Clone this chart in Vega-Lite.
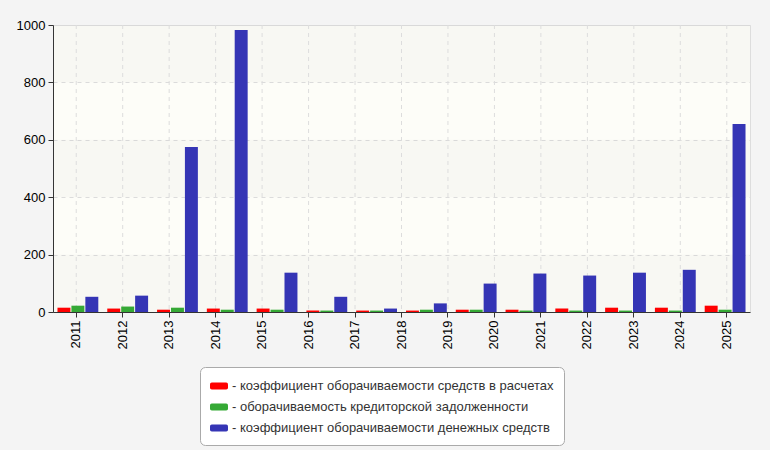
{
  "$schema": "https://vega.github.io/schema/vega-lite/v6.json",
  "width": 697,
  "height": 287,
  "autosize": {"type": "none"},
  "padding": {"left": 53, "top": 25, "right": 20, "bottom": 138},
  "background": "#f4f4f4",
  "config": {
    "font": "Liberation Sans",
    "view": {"fill": "#fdfdf8", "stroke": "#dddddd"}
  },
  "datasets": {
    "turnover": [
      {"period": "2012", "series": "коэффициент оборачиваемости средств в расчетах", "value": 15},
      {"period": "2012", "series": "оборачиваемость кредиторской задолженности", "value": 22},
      {"period": "2012", "series": "коэффициент оборачиваемости денежных средств", "value": 53},
      {"period": "2013", "series": "коэффициент оборачиваемости средств в расчетах", "value": 12},
      {"period": "2013", "series": "оборачиваемость кредиторской задолженности", "value": 19},
      {"period": "2013", "series": "коэффициент оборачиваемости денежных средств", "value": 57},
      {"period": "2014", "series": "коэффициент оборачиваемости средств в расчетах", "value": 8},
      {"period": "2014", "series": "оборачиваемость кредиторской задолженности", "value": 15},
      {"period": "2014", "series": "коэффициент оборачиваемости денежных средств", "value": 575},
      {"period": "2015", "series": "коэффициент оборачиваемости средств в расчетах", "value": 12},
      {"period": "2015", "series": "оборачиваемость кредиторской задолженности", "value": 8},
      {"period": "2015", "series": "коэффициент оборачиваемости денежных средств", "value": 983},
      {"period": "2016", "series": "коэффициент оборачиваемости средств в расчетах", "value": 12},
      {"period": "2016", "series": "оборачиваемость кредиторской задолженности", "value": 8},
      {"period": "2016", "series": "коэффициент оборачиваемости денежных средств", "value": 137},
      {"period": "2017", "series": "коэффициент оборачиваемости средств в расчетах", "value": 5},
      {"period": "2017", "series": "оборачиваемость кредиторской задолженности", "value": 5},
      {"period": "2017", "series": "коэффициент оборачиваемости денежных средств", "value": 53},
      {"period": "2018", "series": "коэффициент оборачиваемости средств в расчетах", "value": 5},
      {"period": "2018", "series": "оборачиваемость кредиторской задолженности", "value": 5},
      {"period": "2018", "series": "коэффициент оборачиваемости денежных средств", "value": 12},
      {"period": "2019", "series": "коэффициент оборачиваемости средств в расчетах", "value": 5},
      {"period": "2019", "series": "оборачиваемость кредиторской задолженности", "value": 8},
      {"period": "2019", "series": "коэффициент оборачиваемости денежных средств", "value": 30},
      {"period": "2020", "series": "коэффициент оборачиваемости средств в расчетах", "value": 8},
      {"period": "2020", "series": "оборачиваемость кредиторской задолженности", "value": 8},
      {"period": "2020", "series": "коэффициент оборачиваемости денежных средств", "value": 99},
      {"period": "2021", "series": "коэффициент оборачиваемости средств в расчетах", "value": 8},
      {"period": "2021", "series": "оборачиваемость кредиторской задолженности", "value": 5},
      {"period": "2021", "series": "коэффициент оборачиваемости денежных средств", "value": 134},
      {"period": "2022", "series": "коэффициент оборачиваемости средств в расчетах", "value": 12},
      {"period": "2022", "series": "оборачиваемость кредиторской задолженности", "value": 5},
      {"period": "2022", "series": "коэффициент оборачиваемости денежных средств", "value": 127},
      {"period": "2023", "series": "коэффициент оборачиваемости средств в расчетах", "value": 15},
      {"period": "2023", "series": "оборачиваемость кредиторской задолженности", "value": 5},
      {"period": "2023", "series": "коэффициент оборачиваемости денежных средств", "value": 137},
      {"period": "2024", "series": "коэффициент оборачиваемости средств в расчетах", "value": 15},
      {"period": "2024", "series": "оборачиваемость кредиторской задолженности", "value": 5},
      {"period": "2024", "series": "коэффициент оборачиваемости денежных средств", "value": 147},
      {"period": "2025", "series": "коэффициент оборачиваемости средств в расчетах", "value": 22},
      {"period": "2025", "series": "оборачиваемость кредиторской задолженности", "value": 8},
      {"period": "2025", "series": "коэффициент оборачиваемости денежных средств", "value": 655}
    ],
    "years": [
      {"year": "2011"}, {"year": "2012"}, {"year": "2013"}, {"year": "2014"}, {"year": "2015"},
      {"year": "2016"}, {"year": "2017"}, {"year": "2018"}, {"year": "2019"}, {"year": "2020"},
      {"year": "2021"}, {"year": "2022"}, {"year": "2023"}, {"year": "2024"}, {"year": "2025"}
    ],
    "bands": [
      {"from": 0, "to": 200},
      {"from": 400, "to": 600},
      {"from": 800, "to": 1000}
    ]
  },
  "layer": [
    {
      "data": {"name": "bands"},
      "mark": {"type": "rect", "fill": "#808080", "opacity": 0.045},
      "encoding": {
        "x": {"value": 0},
        "x2": {"value": "width"},
        "y": {
          "field": "from",
          "type": "quantitative",
          "scale": {"domain": [0, 1000], "nice": false},
          "axis": {
            "title": null,
            "values": [0, 200, 400, 600, 800, 1000],
            "format": "d",
            "grid": true,
            "gridDash": [4, 4],
            "gridColor": "#dddddd",
            "domainColor": "#333333",
            "tickColor": "#333333",
            "tickSize": 5,
            "labelFontSize": 13,
            "labelColor": "#000000",
            "labelPadding": 3
          }
        },
        "y2": {"field": "to"}
      }
    },
    {
      "data": {"name": "years"},
      "mark": {"type": "rule", "color": "#dddddd", "strokeDash": [4, 4]},
      "encoding": {
        "x": {
          "field": "year",
          "type": "ordinal",
          "scale": {"paddingInner": 0, "paddingOuter": 0},
          "axis": {
            "title": null,
            "labelAngle": -90,
            "grid": false,
            "tickSize": 5,
            "tickColor": "#333333",
            "domainColor": "#333333",
            "labelFontSize": 13,
            "labelColor": "#000000",
            "labelPadding": 3
          }
        }
      }
    },
    {
      "data": {"name": "turnover"},
      "mark": {"type": "bar"},
      "encoding": {
        "x": {
          "field": "period",
          "type": "nominal",
          "scale": {"paddingInner": 0.18, "paddingOuter": 0.09},
          "axis": null
        },
        "xOffset": {
          "field": "series",
          "type": "nominal",
          "scale": {
            "domain": ["коэффициент оборачиваемости средств в расчетах", "оборачиваемость кредиторской задолженности", "коэффициент оборачиваемости денежных средств"],
            "paddingInner": 0.07
          }
        },
        "y": {
          "field": "value",
          "type": "quantitative",
          "scale": {"domain": [0, 1000], "nice": false},
          "axis": {
            "title": null,
            "values": [0, 200, 400, 600, 800, 1000],
            "format": "d",
            "grid": true,
            "gridDash": [4, 4],
            "gridColor": "#dddddd",
            "domainColor": "#333333",
            "tickColor": "#333333",
            "tickSize": 5,
            "labelFontSize": 13,
            "labelColor": "#000000",
            "labelPadding": 3
          }
        },
        "color": {
          "field": "series",
          "type": "nominal",
          "scale": {
            "domain": ["коэффициент оборачиваемости средств в расчетах", "оборачиваемость кредиторской задолженности", "коэффициент оборачиваемости денежных средств"],
            "range": ["#ff0000", "#35a935", "#3535b5"]
          },
          "legend": {
            "orient": "none",
            "legendX": 147,
            "legendY": 342,
            "title": null,
            "fillColor": "#ffffff",
            "strokeColor": "#aaaaaa",
            "cornerRadius": 5,
            "padding": 10,
            "rowPadding": 5,
            "symbolType": "M-0.8,-0.39H0.8Q1,-0.39 1,-0.19V0.19Q1,0.39 0.8,0.39H-0.8Q-1,0.39 -1,0.19V-0.19Q-1,-0.39 -0.8,-0.39Z",
            "symbolSize": 324,
            "symbolStrokeWidth": 0,
            "symbolOpacity": 1,
            "labelFontSize": 13,
            "labelColor": "#333333",
            "labelOffset": 4,
            "labelLimit": 600,
            "labelExpr": "'- ' + datum.label"
          }
        }
      }
    }
  ],
  "resolve": {"scale": {"x": "independent", "xOffset": "independent"}, "axis": {"x": "independent"}}
}
